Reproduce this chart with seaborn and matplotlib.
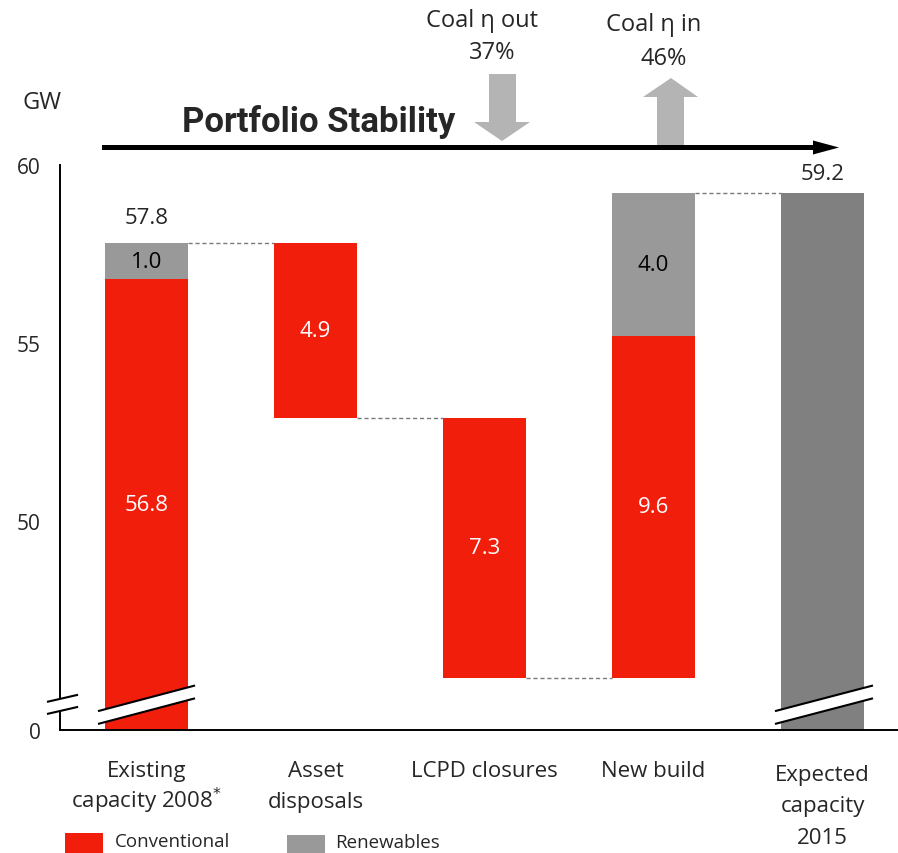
import matplotlib
matplotlib.use("Agg")
import matplotlib.pyplot as plt
import seaborn as sns
import numpy as np
import pandas as pd
from matplotlib.patches import Polygon, Rectangle

sns.set_theme(style="white")
plt.rcParams['font.family'] = ['Open Sans', 'DejaVu Sans']

# ---- data -------------------------------------------------------------
categories = ["Existing capacity 2008", "Asset disposals", "LCPD closures",
              "New build", "Expected capacity 2015"]
tick_labels = [["Existing", "capacity 2008$^{*}$"], ["Asset", "disposals"], ["LCPD closures"],
               ["New build"], ["Expected", "capacity", "2015"]]
conventional_change = [56.8, -4.9, -7.3, 9.6]
renewables_change = [1.0, 0.0, 0.0, 4.0]
expected_total = 59.2
y_ticks = [50, 55, 60]

RED = "#F11E0C"
REN_GREY = "#999999"
TOTAL_GREY = "#808080"
ARROW_GREY = "#B4B4B4"

W, H = 898, 854
Y_FLOOR = 44.13  # where the broken axis is drawn as zero

# ---- waterfall geometry -------------------------------------------------
conv_bottom, conv_height, ren_bottom, ren_height = [], [], [], []
levels = []
running = 0.0
for dc, dr in zip(conventional_change, renewables_change):
    lo, hi = sorted([running, running + dc])
    conv_bottom.append(lo)
    conv_height.append(hi - lo)
    running += dc
    ren_bottom.append(running)
    ren_height.append(dr)
    running += dr
    levels.append(running)
conv_bottom.append(0.0); conv_height.append(0.0)
ren_bottom.append(0.0); ren_height.append(0.0)
levels.append(expected_total)
tot_bottom = [0.0] * 5
tot_height = [0.0] * 4 + [expected_total]

fig = plt.figure(figsize=(W / 100, H / 100), dpi=100)
ax = fig.add_axes([60 / W, (H - 731) / H, (W - 60) / W, (731 - 166) / H])

BAR_W = 0.49
common = dict(x=categories, order=categories, width=BAR_W, saturation=1,
              linewidth=0, ax=ax, errorbar=None)
sns.barplot(y=conv_height, bottom=np.array(conv_bottom), color=RED, **common)
sns.barplot(y=ren_height, bottom=np.array(ren_bottom), color=REN_GREY, **common)
sns.barplot(y=tot_height, bottom=np.array(tot_bottom), color=TOTAL_GREY, **common)

ax.set_xlim(-0.512, 4.447)
ax.set_ylim(Y_FLOOR, 60)

# dashed connectors between consecutive bars
for i in range(len(categories) - 1):
    ax.plot([i + BAR_W / 2, i + 1 - BAR_W / 2], [levels[i], levels[i]],
            color="#7a7a7a", lw=1.0, ls=(0, (3, 2)), zorder=1)

# segment value labels
VAL_FS = 16


def seg_label(i, bottom, height, value, color):
    lo = max(bottom, Y_FLOOR)
    ax.text(i, (lo + bottom + height) / 2, f"{value:.1f}", ha="center", va="center",
            color=color, fontsize=VAL_FS)


for i in range(4):
    if conv_height[i] > 0:
        seg_label(i, conv_bottom[i], conv_height[i], abs(conventional_change[i]), "white")
    if ren_height[i] > 0:
        seg_label(i, ren_bottom[i], ren_height[i], renewables_change[i], "black")

# totals above first and last bars
ax.annotate(f"{levels[0]:.1f}", xy=(0, levels[0]), xytext=(0, 18.5),
            textcoords="offset points", ha="center", va="center", fontsize=VAL_FS)
ax.annotate(f"{expected_total:.1f}", xy=(4, expected_total), xytext=(0, 14.5),
            textcoords="offset points", ha="center", va="center", fontsize=VAL_FS)

# axis styling
for s in ["top", "right"]:
    ax.spines[s].set_visible(False)
for s in ["left", "bottom"]:
    ax.spines[s].set_color("black")
    ax.spines[s].set_linewidth(1.4)
ax.set_yticks([Y_FLOOR] + y_ticks)
ax.set_yticklabels(["0"] + [str(t) for t in y_ticks])
ax.tick_params(axis="y", length=6, width=1.4, color="black", pad=8, labelsize=15)
ax.tick_params(axis="x", length=0, pad=0)
ax.set_xticks(range(len(categories)))
ax.set_xticklabels([])
ax.set_xlabel("")
ax.set_ylabel("")

# category labels, one line at a time (baseline offsets in pixels below the axis)
first_line_px = [46, 46, 46, 46, 50]
LINE_PX = 31.5
for i, lines in enumerate(tick_labels):
    for k, line in enumerate(lines):
        off_px = first_line_px[i] + k * LINE_PX
        ax.annotate(line, xy=(i, Y_FLOOR), xytext=(0, -off_px * 0.72),
                    textcoords="offset points", ha="center", va="baseline",
                    fontsize=16, annotation_clip=False)


# axis break marks
def draw_break(x0, x1, y0, rise, gap):
    poly = Polygon([(x0, y0), (x1, y0 + rise), (x1, y0 + rise + gap), (x0, y0 + gap)],
                   closed=True, facecolor="white", edgecolor="none", zorder=5, clip_on=False)
    ax.add_patch(poly)
    for dy in (0, gap):
        ax.plot([x0, x1], [y0 + dy, y0 + rise + dy], color="black", lw=1.5,
                zorder=6, clip_on=False, solid_capstyle="butt")


draw_break(-0.287, 0.287, 44.30, 0.72, 0.36)
draw_break(3.719, 4.299, 44.30, 0.72, 0.36)
draw_break(-0.589, -0.405, 44.58, 0.20, 0.34)


# ---- header annotations (figure pixel coordinates) -----------------------
def fx(x):
    return x / W


def fy(y):
    return 1 - y / H


def fig_poly(pts, color):
    fig.add_artist(Polygon([(fx(x), fy(y)) for x, y in pts], closed=True,
                           facecolor=color, edgecolor="none", transform=fig.transFigure))


# main arrow
fig_poly([(102, 146), (815, 146), (815, 151), (102, 151)], "black")
fig_poly([(813, 141.5), (839, 148.5), (813, 155.5)], "black")
# efficiency arrows
fig_poly([(489, 75), (516, 75), (516, 123), (530, 123), (502, 142), (474, 123), (489, 123)],
         ARROW_GREY)
fig_poly([(657, 146), (684, 146), (684, 98), (698, 98), (671, 79), (643, 98), (657, 98)],
         ARROW_GREY)

fig.text(fx(42), fy(103), "GW", ha="center", va="center", fontsize=17)
fig.text(fx(182), fy(132), "Portfolio Stability", ha="left", va="baseline",
         fontsize=25, fontweight="bold", family=["Roboto", "DejaVu Sans"])
fig.text(fx(482), fy(21), "Coal η out", ha="center", va="center", fontsize=17)
fig.text(fx(492), fy(53), "37%", ha="center", va="center", fontsize=17)
fig.text(fx(654), fy(25), "Coal η in", ha="center", va="center", fontsize=17)
fig.text(fx(664), fy(59), "46%", ha="center", va="center", fontsize=17)

# legend
fig.add_artist(Rectangle((fx(65), fy(860)), (103 - 65) / W, (860 - 834) / H,
                         facecolor=RED, edgecolor="none", transform=fig.transFigure))
fig.text(fx(115), fy(847), "Conventional", ha="left", va="baseline", fontsize=13.5)
fig.add_artist(Rectangle((fx(287), fy(860)), (325 - 287) / W, (860 - 836) / H,
                         facecolor=REN_GREY, edgecolor="none", transform=fig.transFigure))
fig.text(fx(335), fy(848), "Renewables", ha="left", va="baseline", fontsize=13.5)

fig.savefig("out.png", dpi=100)
